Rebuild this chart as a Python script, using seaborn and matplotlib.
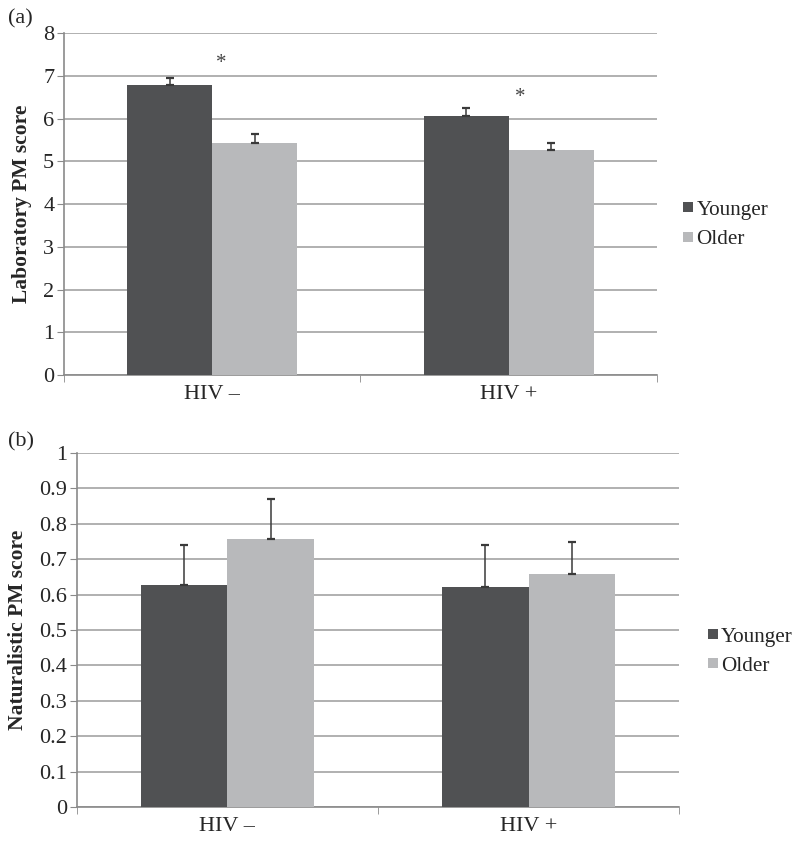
import numpy as np
import pandas as pd
import seaborn as sns
import matplotlib.pyplot as plt
from matplotlib.lines import Line2D

# data
groups = ["HIV \u2013", "HIV +"]
ages = ["Younger", "Older"]

lab_younger = [6.78, 6.06]
lab_older = [5.43, 5.27]
lab_younger_se = [0.18, 0.20]
lab_older_se = [0.20, 0.16]

nat_younger = [0.627, 0.622]
nat_older = [0.758, 0.658]
nat_younger_se = [0.112, 0.117]
nat_older_se = [0.112, 0.092]

# significance markers (x in category units, y in data units)
star_x = [0.03, 1.04]
star_y = [7.3, 6.5]

colors = {"Younger": "#505153", "Older": "#b8b9bb"}

sns.set_style("white")
plt.rcParams["font.family"] = ["Liberation Serif", "DejaVu Serif"]


def make_df(young, old, young_se, old_se):
    return pd.DataFrame({
        "group": groups * 2,
        "age": ["Younger"] * 2 + ["Older"] * 2,
        "score": young + old,
        "se": young_se + old_se,
    })


lab_df = make_df(lab_younger, lab_older, lab_younger_se, lab_older_se)
nat_df = make_df(nat_younger, nat_older, nat_younger_se, nat_older_se)

fig = plt.figure(figsize=(8, 8.44), dpi=100)
ax1 = fig.add_axes([0.08, 0.5557, 0.741, 0.405])
ax2 = fig.add_axes([0.096, 0.0438, 0.753, 0.4194])


def draw(ax, df, ylim, yticks, ylabel, ticklabels, legend_pos):
    sns.barplot(data=df, x="group", y="score", hue="age", hue_order=ages,
                palette=colors, width=0.574, errorbar=None, saturation=1,
                linewidth=0, ax=ax, legend=False, zorder=3)
    # upper-only error bars, placed at the bar centres
    for cont, age in zip(ax.containers, ages):
        sub = df[df["age"] == age]
        xs = [p.get_x() + p.get_width() / 2 for p in cont.patches]
        ax.errorbar(xs, sub["score"].values,
                    yerr=[np.zeros(len(xs)), sub["se"].values],
                    fmt="none", ecolor="#3a3a3a", elinewidth=1.1,
                    capsize=2.6, capthick=1.6, zorder=4)
    ax.set_xlim(-0.5, 1.5)
    ax.set_ylim(*ylim)
    ax.set_yticks(yticks)
    ax.set_yticklabels(ticklabels, fontsize=16)
    ax.set_xticks([0, 1])
    ax.set_xticklabels(groups, fontsize=16)
    ax.set_xticks([-0.5, 0.5, 1.5], minor=True)
    ax.tick_params(axis="x", which="major", length=0, pad=7)
    ax.tick_params(axis="x", which="minor", length=5, color="#8a8a8a",
                   direction="out", bottom=True)
    ax.tick_params(axis="y", length=5, color="#8a8a8a", direction="out",
                   left=True, pad=2)
    ax.set_xlabel("")
    ax.set_ylabel(ylabel, fontsize=15.5, fontweight="bold", labelpad=8)
    ax.yaxis.grid(True, color="#a3a3a3", linewidth=1.2, zorder=0)
    ax.set_axisbelow(True)
    for s in ["top", "right"]:
        ax.spines[s].set_visible(False)
    for s in ["left", "bottom"]:
        ax.spines[s].set_color("#8a8a8a")
        ax.spines[s].set_linewidth(1.2)
    handles = [Line2D([0], [0], marker="s", linestyle="none", markersize=7,
                      markerfacecolor=colors[a], markeredgewidth=0)
               for a in ages]
    ax.legend(handles, ages, loc="center left", bbox_to_anchor=legend_pos,
              frameon=False, fontsize=15.2, handletextpad=-0.1,
              handlelength=1.0, labelspacing=0.45, borderaxespad=0,
              borderpad=0)


draw(ax1, lab_df, (0, 8), range(0, 9), "Laboratory PM score",
     [str(v) for v in range(0, 9)], (1.035, 0.44))
draw(ax2, nat_df, (0, 1), np.arange(0, 1.01, 0.1), "Naturalistic PM score",
     ["0"] + ["%.1f" % v for v in np.arange(0.1, 0.95, 0.1)] + ["1"],
     (1.038, 0.44))

for x, y in zip(star_x, star_y):
    ax1.text(x, y, "*", ha="center", va="center", fontsize=15, color="#444444")

fig.text(0.01, 0.978, "(a)", fontsize=16, va="center")
fig.text(0.01, 0.477, "(b)", fontsize=16, va="center")

fig.savefig("out.png", dpi=100)
